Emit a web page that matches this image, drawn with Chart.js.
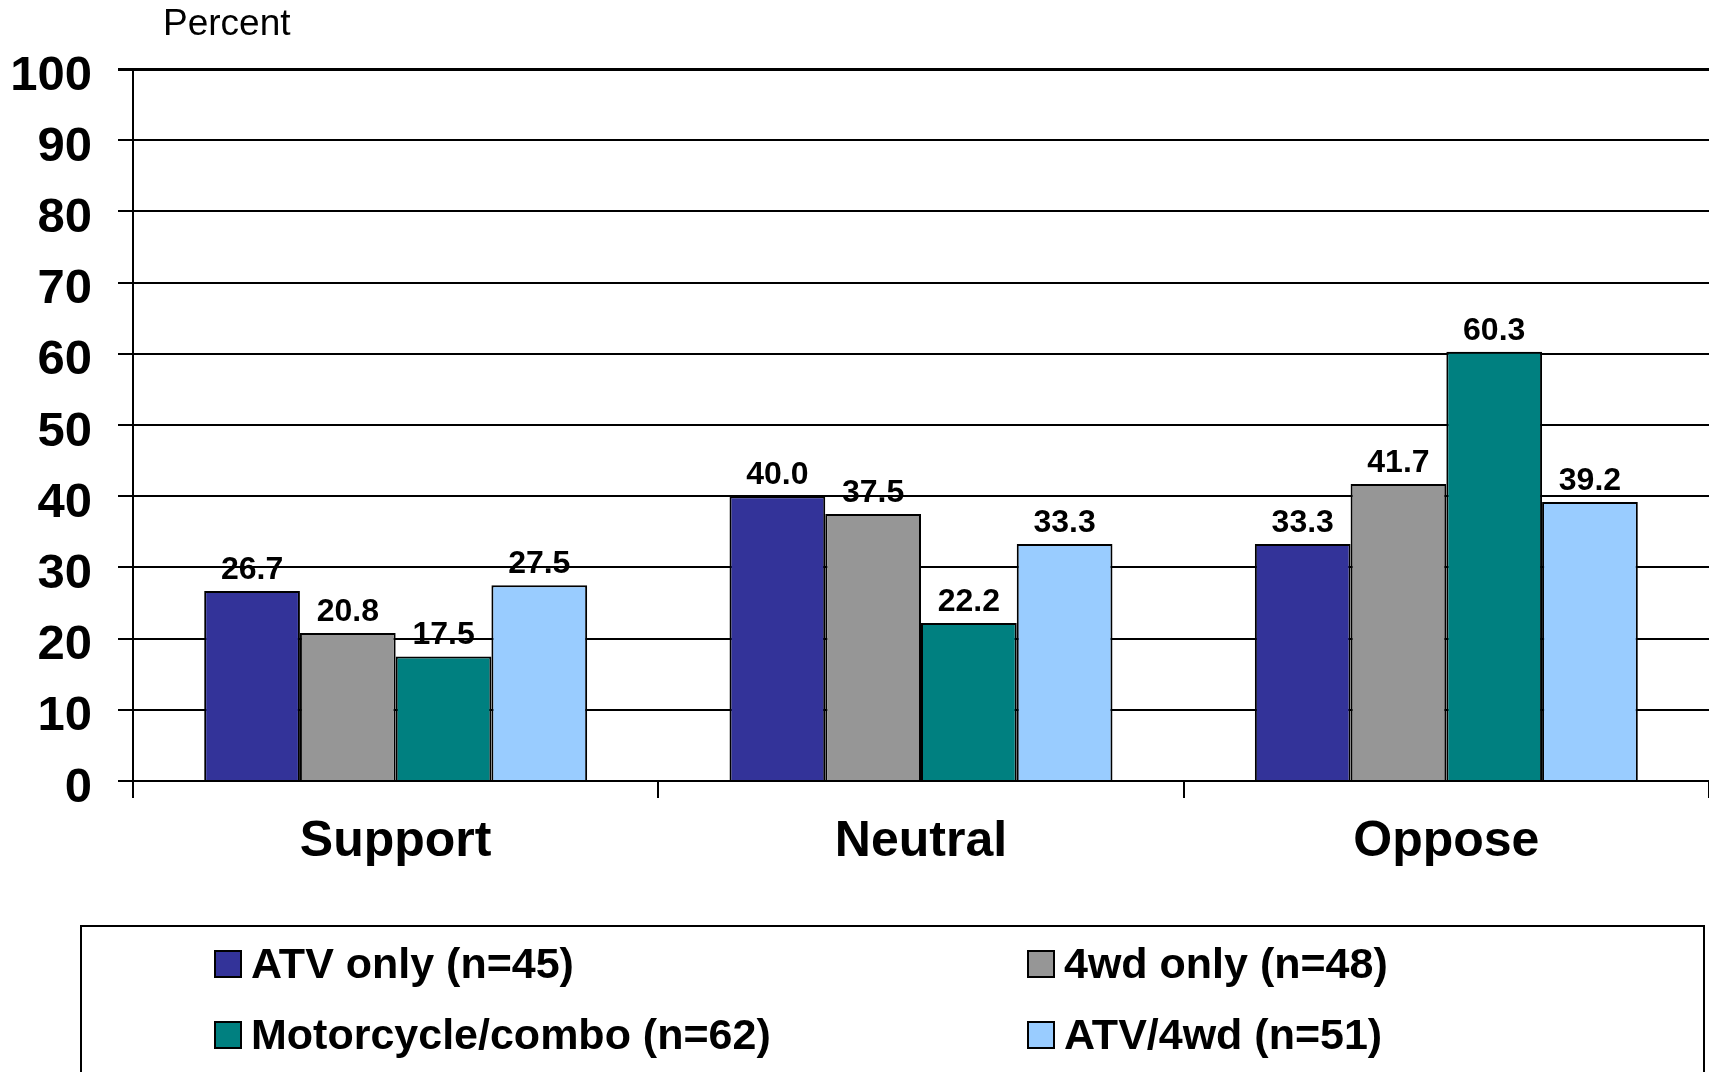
<!DOCTYPE html>
<html>
<head>
<meta charset="utf-8">
<script src="https://cdn.jsdelivr.net/npm/chart.js@4.4.0/dist/chart.umd.min.js"></script>
<style>
  html, body { margin: 0; padding: 0; background: #fff; }
  #grafico { display: block; }
</style>
</head>
<body>
<canvas id="grafico" width="1709" height="1072"></canvas>
<script>
const categorias = ['Support', 'Neutral', 'Oppose'];
const atvOnly = [26.7, 40.0, 33.3];
const fourWdOnly = [20.8, 37.5, 41.7];
const motoCombo = [17.5, 22.2, 60.3];
const atv4wd = [27.5, 33.3, 39.2];
const rotulosSeries = ['ATV only (n=45)', '4wd only (n=48)', 'Motorcycle/combo (n=62)', 'ATV/4wd (n=51)'];
const yTitulo = 'Percent';

const FONTE = '"Liberation Sans", Arial, sans-serif';

// valores em cima das barras
const rotulosPlugin = {
    id: 'rotulos',
    afterDatasetsDraw(chart) {
        const ctx = chart.ctx;
        ctx.save();
        ctx.font = 'bold 32px ' + FONTE;
        ctx.fillStyle = '#000';
        ctx.textAlign = 'center';
        ctx.textBaseline = 'alphabetic';
        chart.data.datasets.forEach((ds, i) => {
            chart.getDatasetMeta(i).data.forEach((bar, j) => {
                ctx.fillText(ds.data[j].toFixed(1), bar.x, bar.y - 12);
            });
        });
        ctx.restore();
    }
};

// "Percent" acima do eixo y
const tituloPlugin = {
    id: 'tituloY',
    afterDraw(chart) {
        const ctx = chart.ctx;
        ctx.save();
        ctx.font = '37px ' + FONTE;
        ctx.fillStyle = '#000';
        ctx.textAlign = 'left';
        ctx.textBaseline = 'middle';
        ctx.fillText(yTitulo, chart.chartArea.left + 30, 25);
        ctx.restore();
    }
};

// legenda em caixa, duas colunas
const legendaPlugin = {
    id: 'legendaCaixa',
    afterDraw(chart) {
        const ctx = chart.ctx;
        const topo = chart.chartArea.bottom + 145;
        ctx.save();
        ctx.strokeStyle = '#000';
        ctx.lineWidth = 2;
        ctx.strokeRect(81, topo, 1623, 300);
        ctx.font = 'bold 43px ' + FONTE;
        ctx.textAlign = 'left';
        ctx.textBaseline = 'middle';
        const colunas = [215, 1028];
        const linhas = [topo + 38, topo + 109];
        chart.data.datasets.forEach((ds, i) => {
            const x = colunas[i % 2];
            const y = linhas[Math.floor(i / 2)];
            ctx.fillStyle = ds.backgroundColor;
            ctx.fillRect(x, y - 13, 26, 26);
            ctx.strokeRect(x, y - 13, 26, 26);
            ctx.fillStyle = '#000';
            ctx.fillText(ds.label, x + 36, y + 2);
        });
        ctx.restore();
    }
};

const cores = ['#333399', '#969696', '#008080', '#99CCFF'];
const series = [atvOnly, fourWdOnly, motoCombo, atv4wd];

const ctxGrafico = document.getElementById('grafico').getContext('2d');
const grafico = new Chart(ctxGrafico, {
    type: 'bar',
    data: {
        labels: categorias,
        datasets: series.map((valores, i) => ({
            label: rotulosSeries[i],
            data: valores,
            backgroundColor: cores[i],
            borderColor: '#000',
            borderWidth: 2,
            categoryPercentage: 0.729,
            barPercentage: 1.0
        }))
    },
    options: {
        responsive: false,
        animation: false,
        devicePixelRatio: 1,
        layout: {
            padding: { top: 69, right: 0, bottom: 191, left: 0 }
        },
        plugins: {
            legend: { display: false },
            tooltip: { enabled: false }
        },
        scales: {
            y: {
                min: 0,
                max: 100,
                ticks: {
                    stepSize: 10,
                    color: '#000',
                    padding: 26,
                    labelOffset: 7,
                    font: { family: FONTE, size: 49, weight: 'bold' }
                },
                grid: {
                    color: '#000',
                    lineWidth: (c) => (c.tick && c.tick.value === 100 ? 3 : 2),
                    tickLength: 15
                },
                border: { color: '#000', width: 2 },
                afterFit(scale) { scale.width = 133; }
            },
            x: {
                ticks: {
                    color: '#000',
                    padding: 14,
                    font: { family: FONTE, size: 50, weight: 'bold' }
                },
                grid: {
                    display: true,
                    drawOnChartArea: false,
                    offset: true,
                    color: '#000',
                    lineWidth: 2,
                    tickLength: 17
                },
                border: { color: '#000', width: 2 },
                afterFit(scale) { scale.height = 100; }
            }
        }
    },
    plugins: [rotulosPlugin, tituloPlugin, legendaPlugin]
});
</script>
</body>
</html>
